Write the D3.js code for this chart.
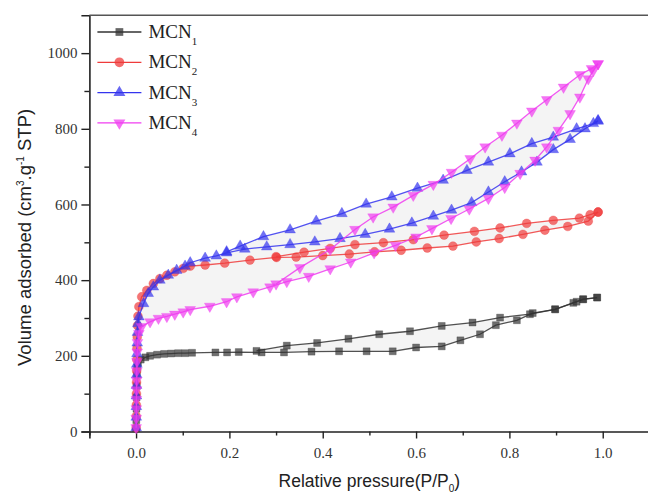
<!DOCTYPE html>
<html>
<head>
<meta charset="utf-8">
<script src="https://cdn.jsdelivr.net/npm/d3@7"></script>
<style>
  body { margin: 0; background: #fff; }
  .tick text { font-family: "Liberation Serif", "Times New Roman", serif; font-size: 15px; fill: #333; }
  .title { font-family: "Liberation Sans", Arial, sans-serif; font-size: 17.5px; fill: #222; }
  .legend text { font-family: "Liberation Serif", "Times New Roman", serif; font-size: 19px; fill: #222; }
</style>
</head>
<body>
<div class="chart"></div>
<script>
// isotherm data, [P/P0, volume]
const seriesNames = ['MCN', 'MCN', 'MCN', 'MCN']
const seriesSubs = ['1', '2', '3', '4']
const seriesColors = ['#333333', '#ef3b3b', '#3434ee', '#f03cf0']

const mcn1Ads = [[0.0002, 8], [0.0005, 30], [0.0008, 60], [0.0011, 90], [0.0014, 120], [0.0018, 150], [0.0025, 170], [0.004, 182],
  [0.01, 190], [0.02, 196], [0.03, 200], [0.045, 203], [0.06, 205], [0.075, 206], [0.09, 207], [0.105, 207], [0.12, 208],
  [0.17, 209], [0.195, 209], [0.22, 210], [0.269, 209], [0.317, 209], [0.376, 211], [0.435, 212], [0.494, 212], [0.55, 212],
  [0.60, 222], [0.655, 225], [0.695, 241], [0.737, 257], [0.771, 281], [0.816, 294], [0.85, 313], [0.898, 323], [0.937, 340],
  [0.958, 349], [0.988, 354]]
const mcn1Des = [[0.988, 354], [0.958, 350], [0.944, 343], [0.898, 323], [0.844, 310], [0.78, 301], [0.721, 288], [0.655, 279],
  [0.587, 265], [0.521, 257], [0.455, 245], [0.388, 234], [0.323, 227], [0.258, 213]]

const mcn2Ads = [[0.0002, 10], [0.0004, 40], [0.0006, 70], [0.0008, 100], [0.001, 130], [0.0013, 160], [0.0016, 190],
  [0.002, 220], [0.0025, 250], [0.003, 280], [0.004, 305], [0.006, 330], [0.012, 356], [0.023, 373], [0.037, 391],
  [0.051, 404], [0.066, 413], [0.083, 422], [0.101, 431], [0.116, 437], [0.148, 440], [0.19, 445], [0.244, 453],
  [0.301, 460], [0.343, 461], [0.40, 465], [0.457, 469], [0.511, 475], [0.568, 479], [0.624, 485], [0.679, 490],
  [0.729, 501], [0.778, 510], [0.829, 521], [0.876, 532], [0.925, 542], [0.969, 556], [0.99, 580]]
const mcn2Des = [[0.99, 580], [0.973, 573], [0.95, 564], [0.894, 558], [0.837, 550], [0.78, 538], [0.725, 529], [0.66, 519],
  [0.594, 507], [0.53, 499], [0.469, 494], [0.416, 484], [0.36, 474], [0.30, 462]]

const mcn3Ads = [[0.0002, 10], [0.0004, 38], [0.0006, 66], [0.0008, 94], [0.001, 122], [0.0013, 150], [0.0016, 178],
  [0.002, 206], [0.0025, 234], [0.003, 262], [0.004, 285], [0.006, 303], [0.016, 338], [0.026, 365], [0.037, 382],
  [0.051, 400], [0.069, 413], [0.087, 426], [0.105, 437], [0.116, 446], [0.148, 458], [0.172, 464], [0.194, 472],
  [0.233, 482], [0.28, 488], [0.33, 494], [0.383, 501], [0.437, 510], [0.491, 521], [0.543, 535], [0.591, 551],
  [0.637, 569], [0.676, 585], [0.719, 605], [0.755, 633], [0.79, 660], [0.826, 686], [0.859, 712], [0.894, 745],
  [0.93, 772], [0.962, 800], [0.99, 820]]
const mcn3Des = [[0.99, 822], [0.98, 814], [0.944, 800], [0.894, 778], [0.848, 761], [0.801, 734], [0.755, 712], [0.709, 690],
  [0.658, 664], [0.603, 643], [0.548, 620], [0.493, 601], [0.441, 576], [0.386, 556], [0.33, 533], [0.273, 515],
  [0.223, 490], [0.194, 475]]

const mcn4Ads = [[0.0002, 10], [0.0004, 35], [0.0006, 60], [0.0008, 85], [0.001, 110], [0.0013, 135], [0.0016, 160],
  [0.002, 185], [0.0025, 210], [0.003, 235], [0.006, 259], [0.012, 277], [0.03, 290], [0.048, 299], [0.066, 304],
  [0.083, 310], [0.101, 316], [0.116, 322], [0.158, 331], [0.194, 343], [0.216, 356], [0.251, 369], [0.287, 382],
  [0.323, 396], [0.37, 410], [0.416, 430], [0.46, 448], [0.51, 472], [0.556, 492], [0.60, 514], [0.634, 536],
  [0.675, 563], [0.714, 588], [0.755, 616], [0.79, 645], [0.823, 682], [0.855, 717], [0.88, 752], [0.905, 796],
  [0.93, 840], [0.951, 884], [0.969, 932], [0.98, 954], [0.99, 972]]
const mcn4Des = [[0.99, 972], [0.976, 959], [0.951, 943], [0.916, 910], [0.88, 877], [0.848, 847], [0.816, 815], [0.784, 783],
  [0.748, 752], [0.716, 721], [0.676, 685], [0.637, 653], [0.594, 624], [0.551, 593], [0.508, 567], [0.469, 534],
  [0.416, 481], [0.351, 433], [0.30, 390]]

const xTicks = [0, 0.2, 0.4, 0.6, 0.8, 1.0]
const yTicks = [0, 200, 400, 600, 800, 1000]

const series = [
  {ads: mcn1Ads, des: mcn1Des, symbol: d3.symbolSquare, size: 48, rot: 0},
  {ads: mcn2Ads, des: mcn2Des, symbol: d3.symbolCircle, size: 62, rot: 0},
  {ads: mcn3Ads, des: mcn3Des, symbol: d3.symbolTriangle, size: 50, rot: 0},
  {ads: mcn4Ads, des: mcn4Des, symbol: d3.symbolTriangle, size: 50, rot: 180}
]

const margin = {top: 15.3, right: -1.4, bottom: 63.5, left: 89.4}
const width = 648 - margin.left - margin.right
const height = 495 - margin.top - margin.bottom

const svg = d3.select('.chart')
  .append('svg')
    .attr('width', 648)
    .attr('height', 495)
  .append('g')
    .attr('transform', `translate(${margin.left}, ${margin.top})`)

const xScale = d3.scaleLinear().domain([-0.1, 1.1]).range([0, width])
const yScale = d3.scaleLinear().domain([0, 1100]).range([height, 0])

const line = d3.line().x(d => xScale(d[0])).y(d => yScale(d[1]))

// hysteresis shading: ads branch from where des closes, back along des
const shade = svg.append('g').attr('class', 'shade')
series.forEach(s => {
  const pClose = d3.min(s.des, d => d[0])
  shade.append('path')
    .attr('d', line(s.ads.filter(d => d[0] >= pClose).concat(s.des)) + 'Z')
    .style('fill', '#f4f4f4')
    .style('stroke', 'none')
})
// the gap between MCN3 and MCN4 at low pressure is shaded too
shade.append('path')
  .attr('d', line(mcn3Ads.filter(d => d[0] >= 0.006 && d[0] <= 0.44)
    .concat(mcn4Ads.filter(d => d[0] >= 0.006 && d[0] <= 0.44).reverse())) + 'Z')
  .style('fill', '#f4f4f4')
  .style('stroke', 'none')

// axes
const xAxis = d3.axisBottom(xScale)
  .tickValues(d3.range(-0.1, 1.1001, 0.1))
  .tickSize(7)
  .tickFormat(d => xTicks.some(t => Math.abs(t - d) < 1e-6) ? d3.format('.1f')(d) : '')
svg.append('g')
    .attr('transform', `translate(0, ${height})`)
  .call(xAxis)
  .call(g => g.selectAll('.tick').filter(d => !xTicks.some(t => Math.abs(t - d) < 1e-6)).select('line').attr('y2', 4))
  .call(g => g.selectAll('.tick text').attr('dy', '1.1em'))

const yAxis = d3.axisLeft(yScale)
  .tickValues(d3.range(0, 1001, 100))
  .tickSize(8)
  .tickFormat(d => yTicks.includes(d) ? d : '')
svg.append('g')
  .call(yAxis)
  .call(g => g.selectAll('.tick').filter(d => !yTicks.includes(d)).select('line').attr('x2', -5))
  .call(g => g.selectAll('.tick text').attr('x', -12))

svg.selectAll('.domain').style('stroke', '#222').style('stroke-width', 1.6)
svg.selectAll('.tick line').style('stroke', '#222').style('stroke-width', 1.4)

// top frame
svg.append('line')
  .attr('x1', 0).attr('x2', width).attr('y1', 0).attr('y2', 0)
  .style('stroke', '#555').style('stroke-width', 1.6)

// curves
series.forEach((s, i) => {
  const g = svg.append('g').attr('class', 'series')
  const color = seriesColors[i]
  ;[s.ads, s.des].forEach(branch => {
    g.append('path')
      .attr('d', line(branch))
      .style('fill', 'none')
      .style('stroke', color)
      .style('stroke-width', 1.3)
      .style('stroke-opacity', 0.85)
    g.selectAll(null)
      .data(branch)
      .enter()
      .append('path')
        .attr('d', d3.symbol().type(s.symbol).size(s.size))
        .attr('transform', d => `translate(${xScale(d[0])}, ${yScale(d[1])}) rotate(${s.rot})`)
        .style('fill', color)
        .style('fill-opacity', 0.7)
        .style('stroke', color)
        .style('stroke-opacity', 0.5)
        .style('stroke-width', 0.6)
  })
})

// legend
const legend = svg.append('g').attr('class', 'legend')
series.forEach((s, i) => {
  const y = 16.7 + i * 30.3
  const color = seriesColors[i]
  legend.append('line')
    .attr('x1', 8).attr('x2', 52).attr('y1', y).attr('y2', y)
    .style('stroke', color).style('stroke-width', 1.3)
  legend.append('path')
    .attr('d', d3.symbol().type(s.symbol).size(s.size + 12))
    .attr('transform', `translate(30, ${y}) rotate(${s.rot})`)
    .style('fill', color).style('fill-opacity', 0.75)
  const t = legend.append('text')
    .attr('x', 59).attr('y', y + 6)
    .text(seriesNames[i])
  t.append('tspan')
    .attr('dy', 7)
    .style('font-size', '11px')
    .text(seriesSubs[i])
})

// axis titles
const xt = svg.append('text')
  .attr('class', 'title')
  .attr('x', xScale(0.5))
  .attr('y', height + 56)
  .style('text-anchor', 'middle')
  .text('Relative pressure(P/P')
xt.append('tspan').attr('dy', 5).style('font-size', '10px').text('0')
xt.append('tspan').attr('dy', -5).text(')')

const yt = svg.append('text')
  .attr('class', 'title')
  .style('font-size', '18.5px')
  .attr('transform', `translate(${-58}, ${yScale(513)}) rotate(-90)`)
  .style('text-anchor', 'middle')
yt.append('tspan').text('Volume adsorbed (cm')
yt.append('tspan').attr('dy', -7).style('font-size', '10px').text('3')
yt.append('tspan').attr('dy', 7).text('.g')
yt.append('tspan').attr('dy', -7).style('font-size', '10px').text('-1')
yt.append('tspan').attr('dy', 7).text(' STP)')
</script>
</body>
</html>
